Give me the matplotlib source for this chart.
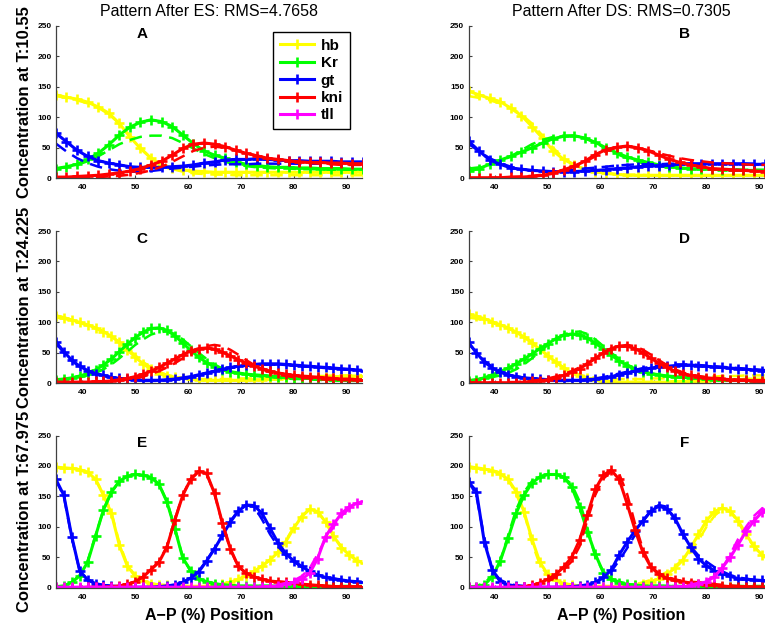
import numpy as np
import matplotlib
matplotlib.use('Agg')
from matplotlib import pyplot as plt
from matplotlib.lines import Line2D

plt.rcParams['font.family'] = ['Liberation Sans', 'DejaVu Sans']

genes = ['hb', 'Kr', 'gt', 'kni', 'tll']
colors = ['#ffff00', '#00ff00', '#0000ff', '#ff0000', '#ff00ff']

# A-P positions of the nuclei
x_early = np.arange(35, 94, 2)     # T:10.55
x_late = np.arange(35, 94, 1.5)    # T:24.225 and T:67.975

# ---- T:10.55 ----
# data (dashed)
hb_d1 = [135, 132, 128, 123, 116, 105, 90, 70, 50, 33, 22, 15, 11, 8, 7, 6, 6, 5, 5, 5, 5, 5, 5, 5, 5, 5, 5, 5, 5, 5]
Kr_d1 = [16, 18, 22, 28, 36, 46, 56, 63, 68, 70, 70, 66, 58, 49, 40, 33, 27, 23, 20, 18, 17, 16, 16, 15, 15, 15, 14, 14, 14, 14]
gt_d1 = [57, 44, 33, 25, 19, 15, 12.5, 11, 11, 12, 14, 16, 17.5, 19, 21, 22, 23, 23, 23, 24, 24, 24, 24, 24, 24, 24, 24, 24, 24, 24]
kni_d1 = [0, 0, 1, 1, 2, 3, 4, 6, 9, 13, 19, 27, 36, 45, 50, 52, 50, 46, 41, 37, 33, 30, 28, 26, 25, 24, 23, 22, 22, 22]
# after ES
hb_A = [137, 133, 130, 125, 117, 107, 90, 68, 49, 33, 22, 17, 14, 12, 11, 10, 10, 10, 10, 10, 10, 10, 10, 10, 10, 10, 10, 10, 10, 10]
Kr_A = [16, 19, 23, 31, 41, 55, 71, 84, 92, 96, 93, 85, 71, 57, 45, 38, 33, 27, 23, 21, 19, 18, 18, 17, 17, 16, 16, 16, 15, 15]
gt_A = [74, 60, 46, 36, 29, 25, 22, 19, 18, 18, 18, 19, 20, 22, 25, 27, 30, 31, 31, 32, 31, 30, 29, 29, 28, 28, 28, 27, 27, 27]
kni_A = [2, 2, 3, 4, 5, 7, 9, 12, 16, 22, 28, 38, 49, 56, 58, 56, 52, 46, 41, 37, 33, 31, 29, 27, 26, 26, 25, 25, 24, 24]
# after DS
hb_B = [143, 137, 131, 126, 115, 103, 85, 66, 45, 31, 22, 15, 11, 8, 6.5, 5, 5, 5, 5, 5, 5, 5, 5, 5, 5, 5, 5, 5, 5, 5]
Kr_B = [12, 16, 23, 30, 36, 43, 50, 58, 65, 69, 70, 66, 59, 50, 42, 35, 30, 26, 22, 19, 17, 16, 15, 15, 14, 14, 13, 13, 13, 13]
gt_B = [61, 45, 30, 23, 17, 15, 13, 12, 11, 11, 11, 12, 13, 14, 16, 17, 19, 20, 21, 22, 23, 24, 24, 24, 24, 24, 24, 23, 23, 23]
kni_B = [1, 1, 1, 1, 2, 2, 3, 5, 8, 14, 20, 28, 39, 47, 51, 53, 50, 45, 38, 31, 26, 22, 19, 16, 15, 14, 13, 12, 11, 11]

# ---- T:24.225 ----
hb_d2 = [108, 106, 103, 99, 95, 90, 84, 77, 68, 57, 46, 35, 26, 19, 14, 11, 9, 8, 7, 7,
         7, 7, 7, 8, 8, 8, 9, 9, 10, 10, 11, 11, 12, 12, 12, 13, 13, 13, 13, 13]
Kr_d2 = [5, 6, 8, 10, 13, 17, 23, 31, 41, 52, 63, 72, 80, 84, 85, 81, 72, 61, 50, 40,
         31, 24, 19, 16, 14, 12, 11, 10, 9, 8, 7, 7, 6, 6, 5, 5, 5, 4, 4, 4]
gt_d2 = [66, 50, 37, 27, 20, 15, 12, 9, 7, 6, 5, 4, 4, 4, 5, 6, 8, 10, 13, 16,
         19, 22, 25, 27, 29, 30, 31, 31, 31, 30, 29, 28, 27, 26, 25, 24, 23, 22, 21, 20]
kni_d2 = [1, 1, 1, 1, 1, 2, 2, 3, 4, 6, 8, 11, 15, 20, 26, 33, 41, 49, 56, 61,
          63, 61, 55, 47, 38, 30, 23, 18, 14, 12, 10, 9, 8, 7, 6, 6, 5, 5, 5, 5]
hb_C = [111, 108, 104, 100, 96, 91, 85, 77, 67, 55, 43, 32, 23, 16, 12, 10, 8, 7, 6, 5,
        5, 5, 5, 5, 5, 6, 6, 7, 7, 8, 8, 9, 9, 10, 10, 11, 11, 12, 12, 12]
Kr_C = [6, 7, 9, 12, 16, 22, 30, 40, 52, 64, 75, 84, 90, 91, 87, 78, 66, 54, 43, 34,
        27, 22, 19, 17, 15, 14, 13, 12, 11, 10, 9, 8, 8, 7, 7, 6, 6, 5, 5, 5]
gt_C = [68, 52, 38, 28, 21, 16, 13, 10, 8, 7, 6, 5, 5, 5, 6, 7, 9, 11, 14, 17,
        20, 23, 26, 28, 30, 31, 32, 32, 32, 31, 30, 29, 28, 27, 26, 25, 24, 23, 22, 21]
kni_C = [2, 2, 2, 2, 2, 3, 3, 4, 6, 8, 11, 15, 20, 26, 33, 40, 47, 53, 57, 58,
         56, 51, 45, 39, 33, 28, 24, 20, 17, 15, 13, 12, 11, 10, 9, 8, 7, 7, 6, 6]
hb_D = [113, 110, 106, 101, 96, 91, 84, 76, 66, 56, 45, 35, 25, 17, 12, 8, 5, 4, 3, 2,
        2, 2, 2, 2, 2, 2, 3, 3, 3, 4, 4, 5, 5, 6, 6, 7, 7, 7, 7, 7]
Kr_D = [4, 6, 9, 14, 19, 25, 32, 40, 48, 57, 65, 73, 79, 81, 80, 74, 66, 56, 46, 37,
        29, 23, 19, 16, 14, 12, 11, 10, 9, 8, 7, 6, 6, 5, 5, 5, 4, 4, 4, 4]
gt_D = [67, 50, 35, 25, 18, 14, 11, 9, 8, 7, 6, 5, 5, 5, 5, 6, 7, 9, 11, 14,
        17, 20, 22, 25, 27, 28, 29, 30, 30, 29, 28, 27, 26, 25, 24, 23, 22, 21, 20, 19]
kni_D = [1, 1, 1, 1, 1, 1, 1, 2, 3, 4, 6, 9, 13, 18, 24, 32, 41, 50, 57, 61,
         61, 57, 50, 41, 33, 26, 20, 16, 13, 11, 9, 8, 7, 6, 5, 5, 4, 4, 4, 4]

# ---- T:67.975 ----
hb_d3 = [197, 196, 195, 193, 189, 178, 154, 124, 74, 38, 20, 11, 7, 5, 4, 3, 3, 3, 3, 3,
         4, 6, 9, 13, 19, 26, 35, 46, 59, 78, 100, 118, 129, 125, 108, 86, 67, 54, 45, 41]
Kr_d3 = [2, 3, 8, 20, 44, 86, 128, 157, 175, 183, 186, 185, 181, 170, 142, 98, 50, 27, 15, 10,
         7, 5, 4, 3, 3, 3, 3, 3, 3, 3, 3, 3, 3, 3, 3, 3, 3, 3, 3, 3]
gt_d3 = [177, 150, 82, 28, 13, 7, 4, 3, 2, 1, 1, 1, 1, 2, 3, 5, 9, 16, 27, 45,
         65, 87, 109, 127, 136, 133, 112, 88, 68, 53, 43, 34, 27, 21, 17, 15, 13, 11, 10, 9]
kni_d3 = [0, 0, 0, 0, 1, 1, 1, 2, 3, 6, 10, 18, 30, 43, 68, 112, 153, 179, 191, 187,
          154, 105, 63, 35, 24, 18, 14, 11, 10, 9, 8, 6, 5, 4, 3, 2, 2, 2, 2, 2]
tll_d3 = [1, 1, 1, 1, 1, 1, 1, 1, 1, 1, 1, 1, 1, 1, 1, 1, 1, 1, 1, 1,
          1, 1, 1, 1, 1, 1, 2, 3, 5, 8, 12, 19, 32, 55, 80, 100, 118, 130, 137, 140]
hb_E = [198, 197, 196, 194, 190, 178, 152, 122, 70, 36, 19, 11, 7, 5, 4, 3, 3, 2, 2, 3,
        4, 6, 9, 14, 20, 27, 36, 46, 58, 76, 98, 117, 129, 125, 108, 85, 66, 54, 44, 40]
Kr_E = [2, 3, 9, 20, 42, 85, 128, 157, 175, 183, 186, 185, 181, 170, 141, 97, 49, 28, 15, 10,
        7, 5, 4, 3, 3, 3, 3, 3, 3, 3, 3, 2, 2, 2, 2, 2, 2, 2, 2, 2]
gt_E = [178, 152, 84, 28, 13, 7, 4, 3, 2, 1, 1, 1, 1, 2, 3, 5, 9, 16, 26, 44,
        64, 86, 108, 126, 136, 135, 122, 98, 74, 56, 44, 35, 27, 21, 17, 15, 13, 11, 10, 9]
kni_E = [0, 0, 0, 0, 1, 1, 1, 2, 3, 6, 10, 18, 30, 42, 67, 111, 152, 178, 191, 188,
         155, 106, 64, 35, 24, 18, 14, 11, 10, 9, 8, 6, 5, 4, 3, 2, 2, 2, 2, 2]
tll_E = [1, 1, 1, 1, 1, 1, 1, 1, 1, 1, 1, 1, 1, 1, 1, 1, 1, 1, 1, 1,
         1, 1, 1, 1, 1, 1, 1, 2, 3, 6, 9, 14, 24, 48, 84, 104, 122, 133, 139, 142]
hb_F = [199, 197, 195, 192, 187, 178, 158, 125, 80, 42, 22, 12, 7, 5, 3, 2, 2, 2, 2, 2,
        3, 4, 6, 10, 15, 22, 32, 45, 65, 88, 110, 125, 131, 126, 110, 88, 68, 54, 46, 42]
Kr_F = [1, 2, 5, 18, 44, 82, 122, 152, 172, 182, 186, 186, 182, 166, 133, 92, 55, 25, 14, 8,
        6, 4, 3, 3, 3, 3, 2, 2, 2, 2, 2, 2, 2, 2, 2, 2, 2, 2, 2, 2]
gt_F = [174, 158, 75, 30, 10, 5, 3, 2, 1, 1, 1, 1, 1, 2, 3, 5, 9, 17, 29, 54,
        75, 94, 110, 126, 134, 130, 115, 89, 67, 48, 36, 28, 23, 19, 15, 14, 13, 12, 11, 10]
kni_F = [0, 0, 0, 0, 0, 1, 1, 2, 4, 8, 14, 22, 34, 50, 78, 120, 162, 185, 193, 178,
         138, 95, 58, 34, 22, 16, 12, 10, 8, 6, 5, 4, 3, 2, 2, 2, 1, 1, 1, 1]
tll_F = [1, 1, 1, 1, 1, 1, 1, 1, 1, 1, 1, 1, 1, 1, 1, 1, 1, 1, 1, 1,
         1, 1, 1, 1, 1, 1, 1, 2, 3, 6, 10, 18, 33, 50, 71, 93, 110, 124, 134, 140]

data1 = [hb_d1, Kr_d1, gt_d1, kni_d1, None]
data2 = [hb_d2, Kr_d2, gt_d2, kni_d2, None]
data3 = [hb_d3, Kr_d3, gt_d3, kni_d3, tll_d3]

panels = [
    ('A', x_early, [hb_A, Kr_A, gt_A, kni_A, None], data1),
    ('B', x_early, [hb_B, Kr_B, gt_B, kni_B, None], data1),
    ('C', x_late, [hb_C, Kr_C, gt_C, kni_C, None], data2),
    ('D', x_late, [hb_D, Kr_D, gt_D, kni_D, None], data2),
    ('E', x_late, [hb_E, Kr_E, gt_E, kni_E, tll_E], data3),
    ('F', x_late, [hb_F, Kr_F, gt_F, kni_F, tll_F], data3),
]
times = ['10.55', '24.225', '67.975']
titles = ['Pattern After ES: RMS=4.7658', 'Pattern After DS: RMS=0.7305']

W, H = 765.0, 627.0
fig = plt.figure(figsize=(W / 100, H / 100), dpi=100)

lefts = [55.9, 468.5]
tops = [26, 231, 435.5]
aw, ah = 305.6, 152.3

for i, (letter, x, model, data) in enumerate(panels):
    row, col = i // 2, i % 2
    ax = fig.add_axes([lefts[col] / W, 1 - (tops[row] + ah) / H, aw / W, ah / H])
    for j in range(5):
        if model[j] is None:
            continue
        ax.plot(x, model[j], '-+', color=colors[j], lw=2.2, ms=7.5, mew=1.9)
        ax.plot(x, data[j], '--', color=colors[j], lw=1.8, dashes=(5, 3))
    ax.set_xlim(35, 92.8)
    ax.set_ylim(0, 250)
    ax.set_xticks([40, 50, 60, 70, 80, 90])
    ax.set_yticks([0, 50, 100, 150, 200, 250])
    for s in ['top', 'right']:
        ax.spines[s].set_visible(False)
    for s in ['left', 'bottom']:
        ax.spines[s].set_color('#404040')
        ax.spines[s].set_linewidth(0.9)
    ax.tick_params(direction='in', length=2.5, width=0.8, color='#404040', labelsize=6)
    ax.tick_params(axis='y', pad=3.2)
    ax.tick_params(axis='x', pad=4.3)
    for lab in ax.get_xticklabels() + ax.get_yticklabels():
        lab.set_fontweight('bold')
    ax.text(51.3 if col == 0 else 75.8, 237, letter, fontsize=11, fontweight='bold',
            ha='center', va='center')
    if col == 0:
        ax.set_ylabel('Concentration at T:' + times[row], fontsize=12, fontweight='bold')
        ax.yaxis.set_label_coords(-0.078, 0.5)
    if row == 0:
        ax.set_title(titles[col], fontsize=11.5, pad=7)
    if row == 2:
        ax.set_xlabel('A\u2212P (%) Position', fontsize=11.5, fontweight='bold', labelpad=5)
    if i == 0:
        handles = [Line2D([], [], color=c, lw=2.2, marker='+', ms=7.5, mew=1.9) for c in colors]
        leg = ax.legend(handles, genes, loc='upper right', bbox_to_anchor=(0.962, 0.961),
                        borderaxespad=0, fancybox=False, edgecolor='black', framealpha=1,
                        prop={'weight': 'bold', 'size': 11}, handlelength=2.2,
                        handletextpad=0.45, labelspacing=0.22, borderpad=0.45)
        leg.get_frame().set_linewidth(1.0)

fig.savefig('out.png', dpi=100)
